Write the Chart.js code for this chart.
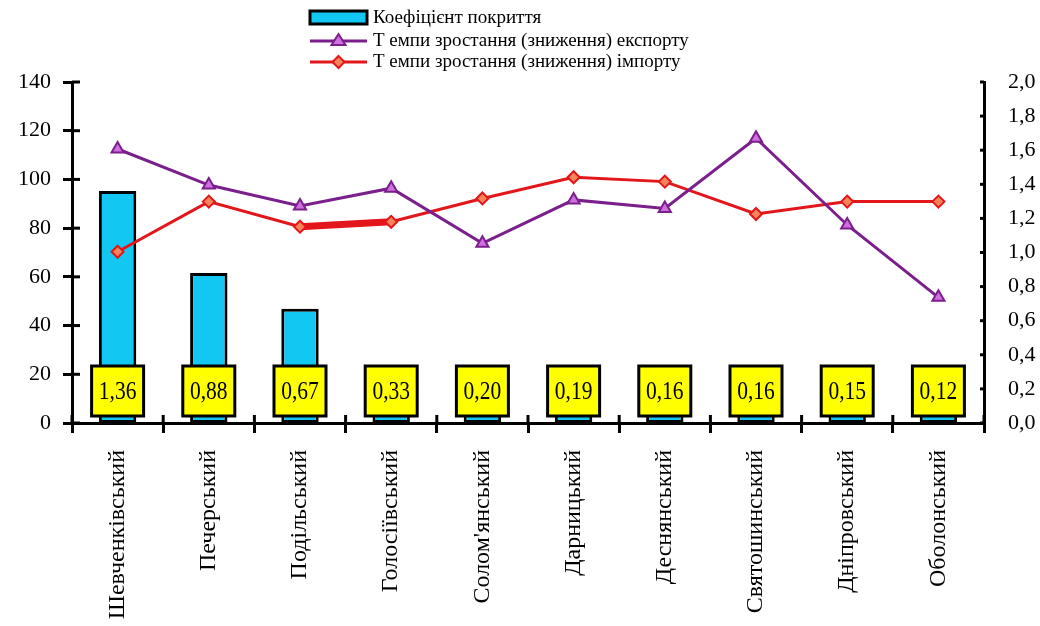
<!DOCTYPE html>
<html><head><meta charset="utf-8">
<script src="https://cdn.jsdelivr.net/npm/chart.js@4.4.0/dist/chart.umd.min.js"></script>
<style>html,body{margin:0;padding:0;background:#fff}#wrap{width:1040px;height:626px}</style>
</head><body><div id="wrap"><canvas id="c" width="1040" height="626"></canvas></div>
<script>
const categories = ['Шевченківський','Печерський','Подільський','Голосіївський','Солом\'янський','Дарницький','Деснянський','Святошинський','Дніпровський','Оболонський'];
const coverage = [1.36,0.88,0.67,0.33,0.20,0.19,0.16,0.16,0.15,0.12];
const exportGrowth = [112.5,97.7,89.1,96.4,73.8,91.6,88.1,116.9,81.3,51.6];
const importGrowth = [70.3,90.9,80.6,82.6,92.2,100.9,99.1,85.8,90.9,90.9];
const leftTicks = [0,20,40,60,80,100,120,140];
const rightTicks = [0,0.2,0.4,0.6,0.8,1.0,1.2,1.4,1.6,1.8,2.0];
const seriesLabels = ['Коефіцієнт покриття','Т емпи зростання (зниження) експорту','Т емпи зростання (зниження) імпорту'];

const SERIF = '"Liberation Serif","Times New Roman",serif';
const CYAN = '#12C8F2', PURPLE = '#7A1F8C', RED = '#E3161B';
const fmt = (v,d)=>v.toFixed(d).replace('.',',');

const boxPlugin = {
  id:'boxes',
  afterDatasetsDraw(chart){
    const ctx = chart.ctx;
    const meta = chart.getDatasetMeta(0);
    const yb = chart.scales.y1.getPixelForValue(0);
    ctx.save();
    meta.data.forEach((el,i)=>{
      const w=52,h=50, x=el.x-w/2, top=yb-7-h;
      ctx.fillStyle='#FFFF00'; ctx.fillRect(x,top,w,h);
      ctx.lineWidth=3; ctx.strokeStyle='#000'; ctx.strokeRect(x,top,w,h);
      ctx.save();
      ctx.translate(el.x, top+h/2+1); ctx.scale(0.86,1);
      ctx.fillStyle='#000'; ctx.font='25px '+SERIF; ctx.textAlign='center'; ctx.textBaseline='middle';
      ctx.fillText(fmt(coverage[i],2), 0, 0);
      ctx.restore();
    });
    ctx.restore();
  }
};

const innerTicks = {
  id:'innerTicks',
  afterDraw(chart){
    const ctx = chart.ctx, {y, y1, x} = chart.scales, a = chart.chartArea;
    ctx.save(); ctx.strokeStyle='#000'; ctx.lineWidth=3;
    leftTicks.forEach(v=>{const p=y.getPixelForValue(v); ctx.beginPath(); ctx.moveTo(a.left,p); ctx.lineTo(a.left+8,p); ctx.stroke();});
    rightTicks.forEach(v=>{const p=y1.getPixelForValue(v); ctx.beginPath(); ctx.moveTo(a.right-4,p); ctx.lineTo(a.right,p); ctx.stroke();});
    const half = (x.getPixelForValue(1)-x.getPixelForValue(0))/2;
    for(let i=0;i<=categories.length;i++){
      const p = x.getPixelForValue(0)-half+i*half*2;
      ctx.beginPath(); ctx.moveTo(p,a.bottom); ctx.lineTo(p,a.bottom-8); ctx.stroke();
    }
    ctx.restore();
  }
};

const legendPlugin = {
  id:'legendCustom',
  afterDraw(chart){
    const ctx = chart.ctx; const x0=310, x1=367, tx=373;
    ctx.save();
    ctx.font='19px '+SERIF; ctx.fillStyle='#000'; ctx.textAlign='left'; ctx.textBaseline='middle';
    ctx.fillStyle=CYAN; ctx.fillRect(x0,11,x1-x0,13);
    ctx.lineWidth=3; ctx.strokeStyle='#000'; ctx.strokeRect(x0,11,x1-x0,13);
    ctx.fillStyle='#000'; ctx.fillText(seriesLabels[0], tx, 18);
    ctx.strokeStyle=PURPLE; ctx.lineWidth=3; ctx.beginPath(); ctx.moveTo(x0,41); ctx.lineTo(x1,41); ctx.stroke();
    const mx=(x0+x1)/2;
    ctx.beginPath(); ctx.moveTo(mx,34); ctx.lineTo(mx+7,45); ctx.lineTo(mx-7,45); ctx.closePath();
    ctx.fillStyle='#D070E0'; ctx.fill(); ctx.lineWidth=2; ctx.stroke();
    ctx.fillStyle='#000'; ctx.fillText(seriesLabels[1], tx, 41);
    ctx.strokeStyle=RED; ctx.lineWidth=3; ctx.beginPath(); ctx.moveTo(x0,62); ctx.lineTo(x1,62); ctx.stroke();
    ctx.beginPath(); ctx.moveTo(mx,56); ctx.lineTo(mx+6,62); ctx.lineTo(mx,68); ctx.lineTo(mx-6,62); ctx.closePath();
    ctx.fillStyle='#F5845A'; ctx.fill(); ctx.lineWidth=2; ctx.stroke();
    ctx.fillStyle='#000'; ctx.fillText(seriesLabels[2], tx, 62);
    ctx.restore();
  }
};

new Chart(document.getElementById('c'), {
  data:{
    labels: categories,
    datasets:[
      {type:'bar', label:seriesLabels[0], data:coverage, yAxisID:'y1', backgroundColor:CYAN, borderColor:'#000', borderWidth:3, borderSkipped:false, barPercentage:0.41, categoryPercentage:1, order:3},
      {type:'line', label:seriesLabels[1], data:exportGrowth, yAxisID:'y', borderColor:PURPLE, borderWidth:3, pointStyle:'triangle', pointRadius:7, pointBorderWidth:2, pointBackgroundColor:'#D070E0', pointBorderColor:PURPLE, order:1, tension:0},
      {type:'line', label:seriesLabels[2], data:importGrowth, yAxisID:'y', borderColor:RED, borderWidth:3, pointStyle:'rectRot', pointRadius:6, pointBorderWidth:2, pointBackgroundColor:'#F5845A', pointBorderColor:RED, order:2, tension:0,
        segment:{borderWidth: c => c.p0DataIndex===2 ? 7 : 3}}
    ]
  },
  options:{
    responsive:false, devicePixelRatio:1, animation:false,
    layout:{padding:{top:82,left:0,right:0,bottom:0}},
    plugins:{legend:{display:false}, tooltip:{enabled:false}},
    scales:{
      x:{type:'category', offset:true,
        grid:{offset:true, drawOnChartArea:false, tickLength:10, lineWidth:3, color:'#000'},
        border:{display:true,color:'#000',width:3},
        ticks:{autoSkip:false, minRotation:90, maxRotation:90, color:'#000', font:{family:SERIF,size:24}, padding:17},
        afterFit(s){s.height=203;}
      },
      y:{position:'left', min:0, max:140,
        afterBuildTicks(s){s.ticks=leftTicks.map(v=>({value:v}));},
        grid:{drawOnChartArea:false, tickLength:9, lineWidth:3, color:'#000'},
        border:{display:true,color:'#000',width:3},
        ticks:{color:'#000', font:{family:SERIF,size:22}, padding:12, callback:v=>String(v)},
        afterFit(s){s.width=72;}
      },
      y1:{position:'right', min:0, max:2,
        afterBuildTicks(s){s.ticks=rightTicks.map(v=>({value:v}));},
        grid:{display:false, drawOnChartArea:false},
        border:{display:true,color:'#000',width:3},
        ticks:{color:'#000', font:{family:SERIF,size:22}, padding:16, callback:v=>fmt(v,1)},
        afterFit(s){s.width=56;}
      }
    }
  },
  plugins:[boxPlugin, innerTicks, legendPlugin]
});
</script></body></html>
